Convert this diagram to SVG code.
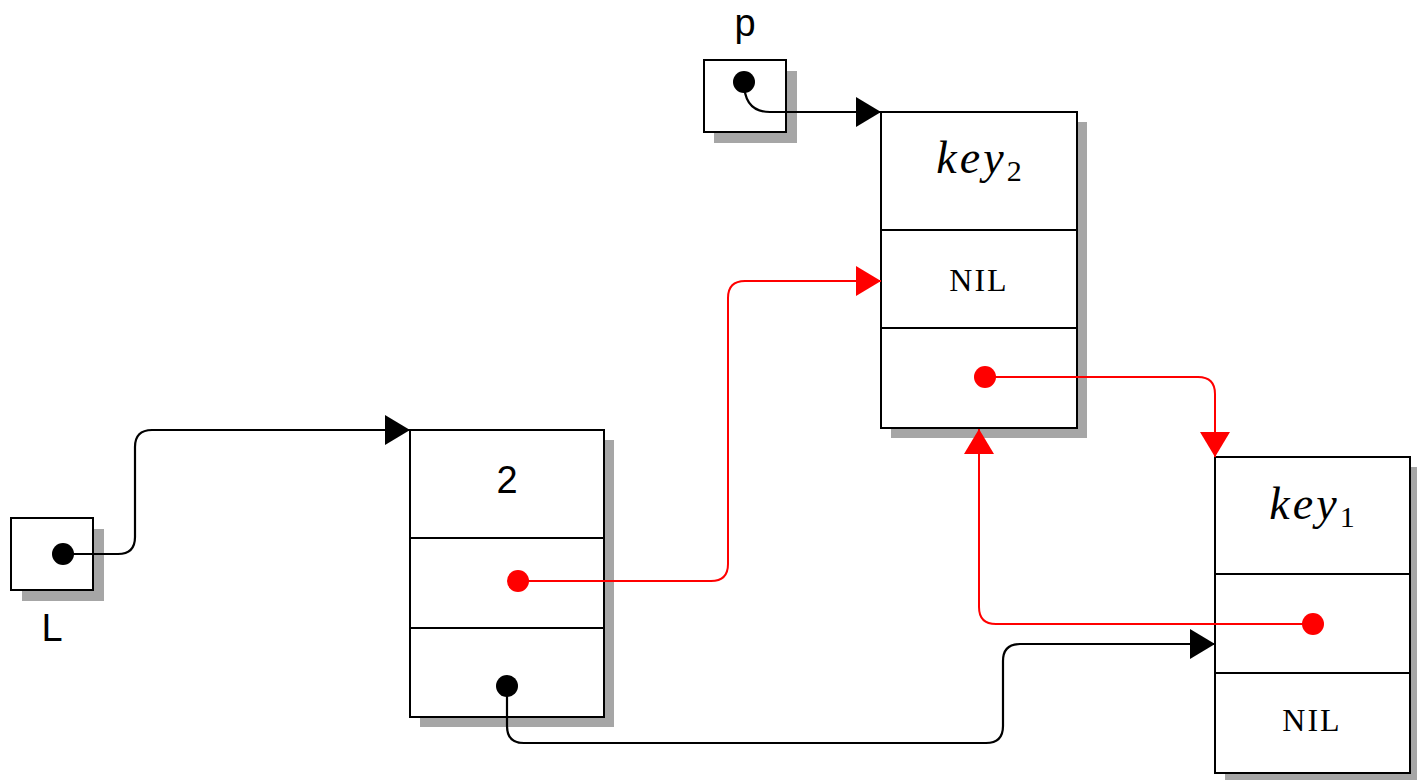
<svg xmlns="http://www.w3.org/2000/svg" width="1417" height="780" viewBox="0 0 1417 780">
<defs>
<marker id="ab" markerWidth="26" markerHeight="30" refX="25" refY="15" orient="auto" markerUnits="userSpaceOnUse"><path d="M0,0 L25,15 L0,30 Z" fill="#000"/></marker>
<marker id="ar" markerWidth="26" markerHeight="30" refX="25" refY="15" orient="auto" markerUnits="userSpaceOnUse"><path d="M0,0 L25,15 L0,30 Z" fill="#f00"/></marker>
</defs>
<style>
.sh{fill:#a6a6a6}
.bx{fill:#fff;stroke:#000;stroke-width:2}
.dv{stroke:#000;stroke-width:2}
.cb{fill:none;stroke:#000;stroke-width:2.2}
.cr{fill:none;stroke:#f00;stroke-width:2}
.sans{font-family:"Liberation Sans",Arial,sans-serif;fill:#000;font-size:38px}
.key{font-family:"Liberation Serif","DejaVu Serif",serif;font-style:italic;font-size:46px;letter-spacing:3px;fill:#000}
.sub{font-family:"Liberation Serif","DejaVu Serif",serif;font-style:normal;font-size:30px;letter-spacing:0}
.nil{font-family:"Liberation Serif","DejaVu Serif",serif;font-size:32px;letter-spacing:2px;fill:#000}
</style>
<rect width="1417" height="780" fill="#fff"/>

<g id="p">
<rect class="sh" x="714" y="71" width="83" height="72"/>
<rect class="bx" x="704" y="60" width="82" height="72"/>
<text class="sans" x="745" y="36" text-anchor="middle">p</text>
<circle cx="744" cy="82" r="11" fill="#000"/>
</g>

<g id="L">
<rect class="sh" x="22" y="529" width="82" height="72"/>
<rect class="bx" x="11" y="518" width="82" height="72"/>
<circle cx="63" cy="554" r="11" fill="#000"/>
<text class="sans" x="52" y="641" text-anchor="middle">L</text>
</g>

<g id="node2">
<rect class="sh" x="420" y="440" width="194" height="287"/>
<rect class="bx" x="410" y="430" width="194" height="287"/>
<line class="dv" x1="410" y1="538" x2="604" y2="538"/>
<line class="dv" x1="410" y1="628" x2="604" y2="628"/>
<text class="sans" x="507" y="493" text-anchor="middle">2</text>
<circle cx="518" cy="581" r="11" fill="#f00"/>
<circle cx="507" cy="686" r="11" fill="#000"/>
</g>

<g id="key2">
<rect class="sh" x="891" y="122" width="196" height="316"/>
<rect class="bx" x="881" y="112" width="196" height="316"/>
<line class="dv" x1="881" y1="230" x2="1077" y2="230"/>
<line class="dv" x1="881" y1="328" x2="1077" y2="328"/>
<text class="key" x="979" y="173" text-anchor="middle">key<tspan class="sub" dy="8">2</tspan></text>
<text class="nil" x="979" y="291" text-anchor="middle">NIL</text>
<circle cx="985" cy="377" r="11" fill="#f00"/>
</g>

<g id="key1">
<rect class="sh" x="1225" y="467" width="196" height="316"/>
<rect class="bx" x="1215" y="457" width="195" height="316"/>
<line class="dv" x1="1215" y1="574" x2="1410" y2="574"/>
<line class="dv" x1="1215" y1="673" x2="1410" y2="673"/>
<text class="key" x="1312" y="519" text-anchor="middle">key<tspan class="sub" dy="8">1</tspan></text>
<text class="nil" x="1312" y="731" text-anchor="middle">NIL</text>
<circle cx="1313" cy="624" r="11" fill="#f00"/>
</g>

<g id="connectors">
<path class="cb" d="M744,82 Q744,112 770,112 L881,112" marker-end="url(#ab)"/>
<path class="cb" d="M63,554 L118,554 Q135,554 135,537 L135,447 Q135,430 152,430 L410,430" marker-end="url(#ab)"/>
<path class="cr" d="M518,581 L711,581 Q728,581 728,564 L728,298 Q728,281 745,281 L881,281" marker-end="url(#ar)"/>
<path class="cr" d="M985,377 L1198,377 Q1215,377 1215,394 L1215,457" marker-end="url(#ar)"/>
<path class="cr" d="M1313,624 L996,624 Q979,624 979,607 L979,429" marker-end="url(#ar)"/>
<path class="cb" d="M507,686 L507,726 Q507,743 524,743 L986,743 Q1003,743 1003,726 L1003,661 Q1003,644 1020,644 L1215,644" marker-end="url(#ab)"/>
</g>
</svg>
